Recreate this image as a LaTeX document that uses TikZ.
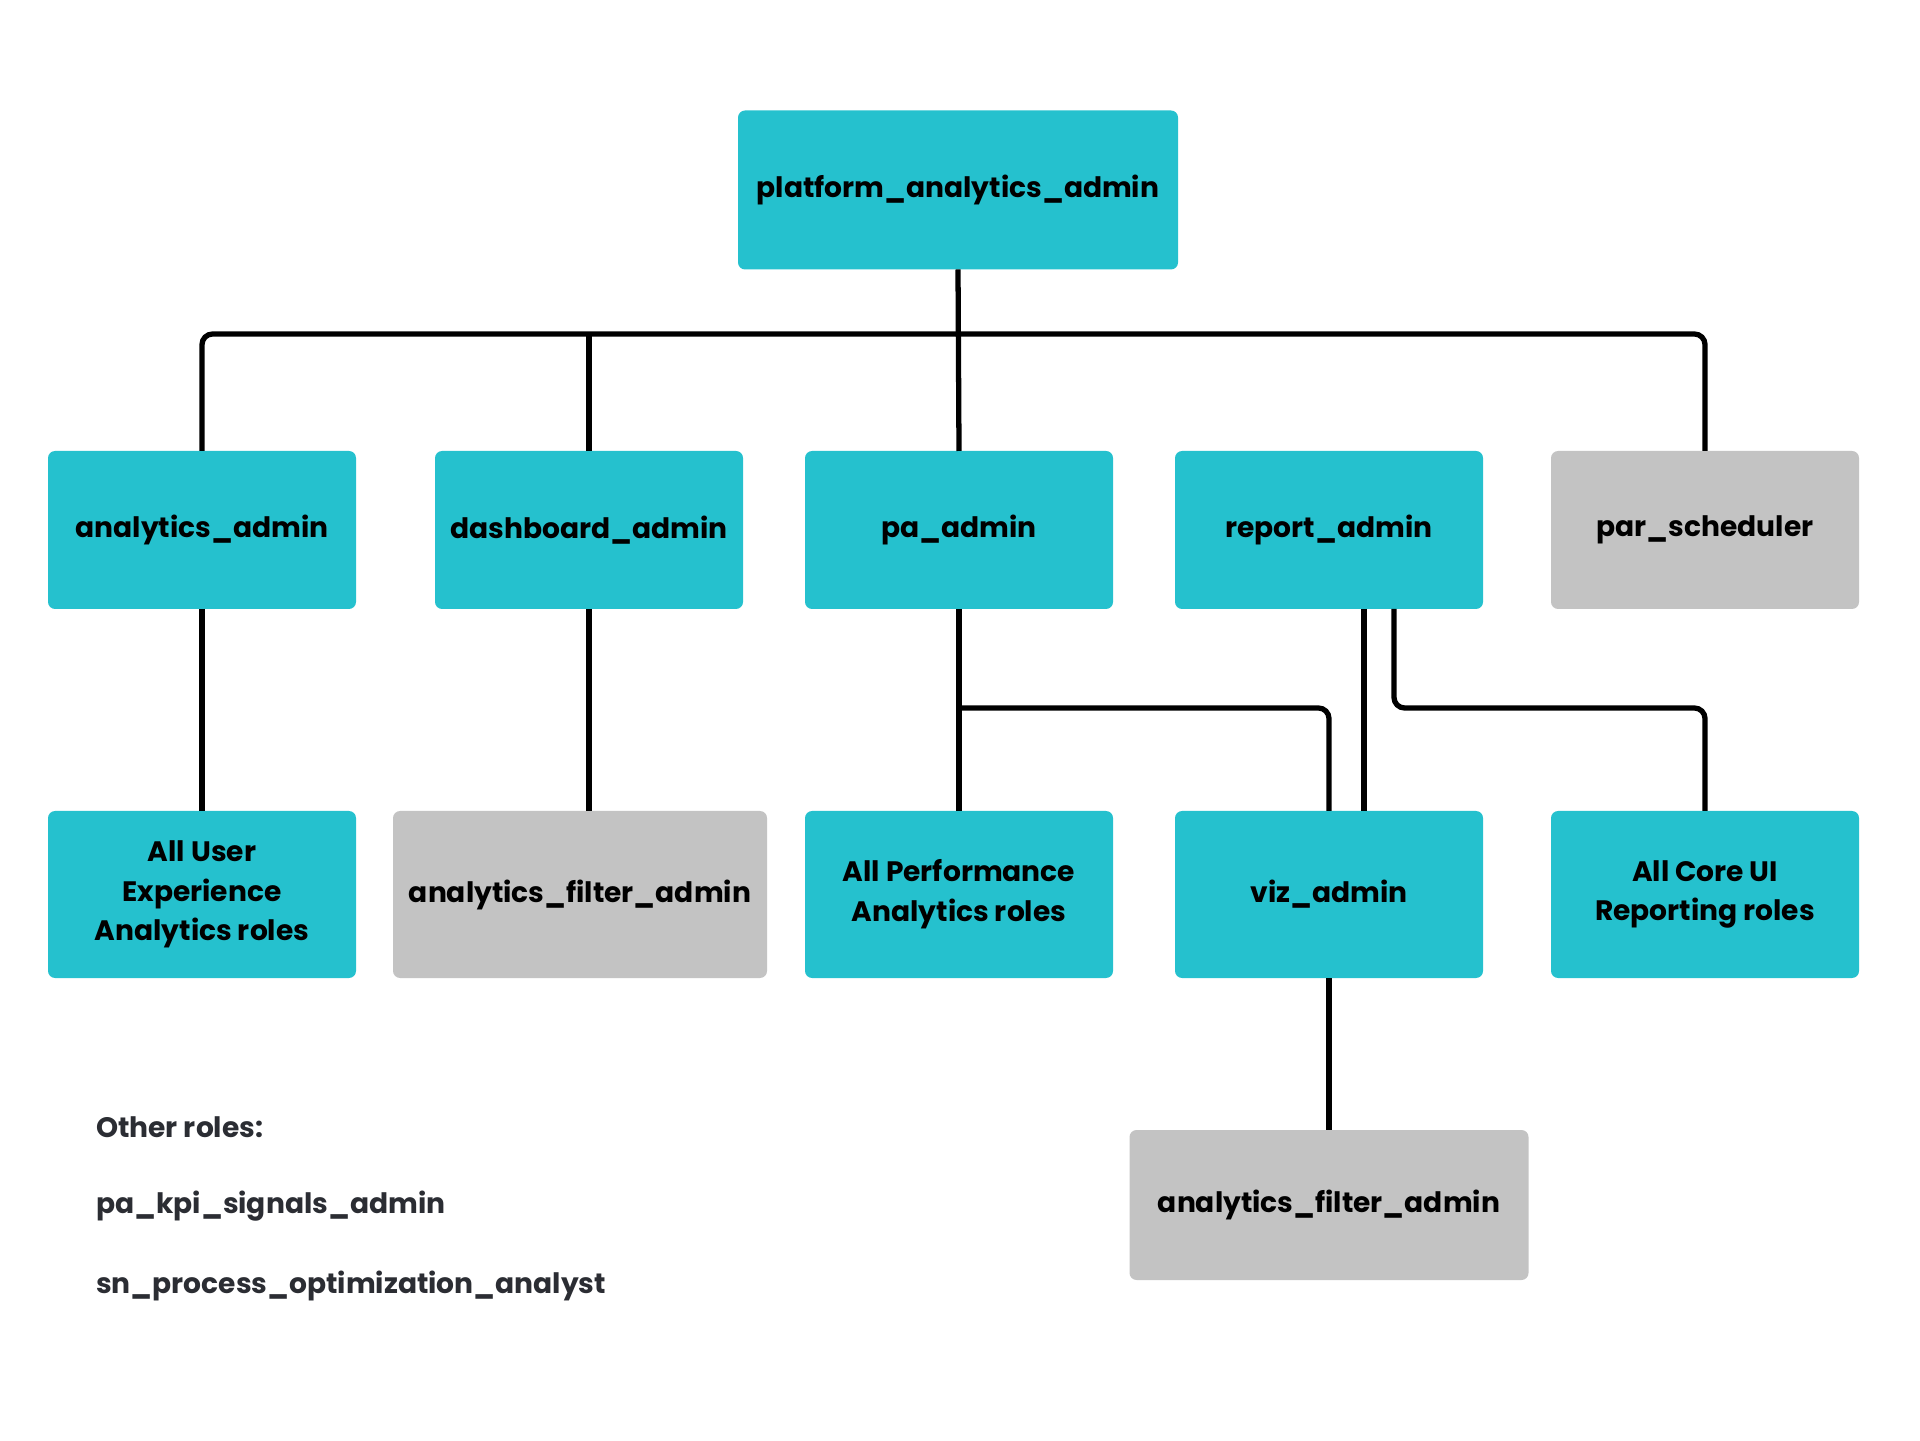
\documentclass[tikz,border=0pt]{standalone}
\usepackage{fontspec}
\setmainfont{Poppins}
\usepackage{tikz}
\usetikzlibrary{positioning,calc}
\usepackage{xcolor}
\definecolor{roleteal}{RGB}{37,193,206}
\definecolor{rolegray}{RGB}{195,195,195}
\definecolor{notegray}{RGB}{43,45,51}

\begin{document}
\begin{tikzpicture}[
node distance=0.62cm,
role/.style={rectangle,fill=roleteal,rounded corners=2pt,minimum width=3.08cm,minimum height=1.58cm,align=center,
  font=\bfseries\fontsize{8}{11.3}\selectfont,inner sep=2pt,outer sep=0pt},
grayrole/.style={role,fill=rolegray},
tall/.style={minimum height=1.67cm},
note/.style={anchor=west,text=notegray,font=\bfseries\fontsize{8}{9.6}\selectfont,inner sep=0pt},
link/.style={line width=1.5pt,rounded corners=3pt}
]
\useasboundingbox (0,0) rectangle (19.2,14.4);

\node[role,minimum width=4.40cm,minimum height=1.59cm] (top) at (9.58,12.50) {platform\_analytics\_admin};

\node[role] (ana) at (2.02,9.10) {analytics\_admin};
\node[role,right=0.79cm of ana] (dash) {dashboard\_admin};
\node[role,right=of dash] (pa) {pa\_admin};
\node[role,right=of pa] (rep) {report\_admin};
\node[grayrole,right=0.68cm of rep] (par) {par\_scheduler};

\node[role,tall,below=2.02cm of ana] (ux) {All User\\Experience\\Analytics roles};
\node[grayrole,tall,minimum width=3.74cm] (filterA) at (5.80,5.455) {analytics\_filter\_admin};
\node[role,tall,below=2.02cm of pa] (perf) {All Performance\\Analytics roles};
\node[role,tall,below=2.02cm of rep] (viz) {viz\_admin};
\node[role,tall,below=2.02cm of par] (core) {All Core UI\\Reporting roles};

\node[grayrole,minimum width=3.99cm,minimum height=1.50cm,below=1.52cm of viz] (filterB) {analytics\_filter\_admin};

\node[note] (other) at (0.955,3.13) {Other roles:};
\node[note] (kpi) at (0.955,2.34) {pa\_kpi\_signals\_admin};
\node[note] (proc) at (0.955,1.54) {sn\_process\_optimization\_analyst};

\coordinate (bus) at (9.58,11.06);
\coordinate (split) at (9.58,7.32);

\draw[link] (top.south) -- (pa.north);
\draw[link] (ana.north) |- (bus) -| (par.north);
\draw[link] (dash.north) -- (dash.north |- bus);
\draw[link] (ana.south) -- (ux.north);
\draw[link] (dash.south) -- (dash.south |- filterA.north);
\draw[link] (pa.south) -- (perf.north);
\draw[link] (split) -| (viz.north);
\draw[link] ([xshift=0.35cm]rep.south) -- ([xshift=0.35cm]viz.north);
\draw[link] ([xshift=0.65cm]rep.south) |- (split -| core.north) -- (core.north);
\draw[link] (viz.south) -- (filterB.north);
\end{tikzpicture}
\end{document}
